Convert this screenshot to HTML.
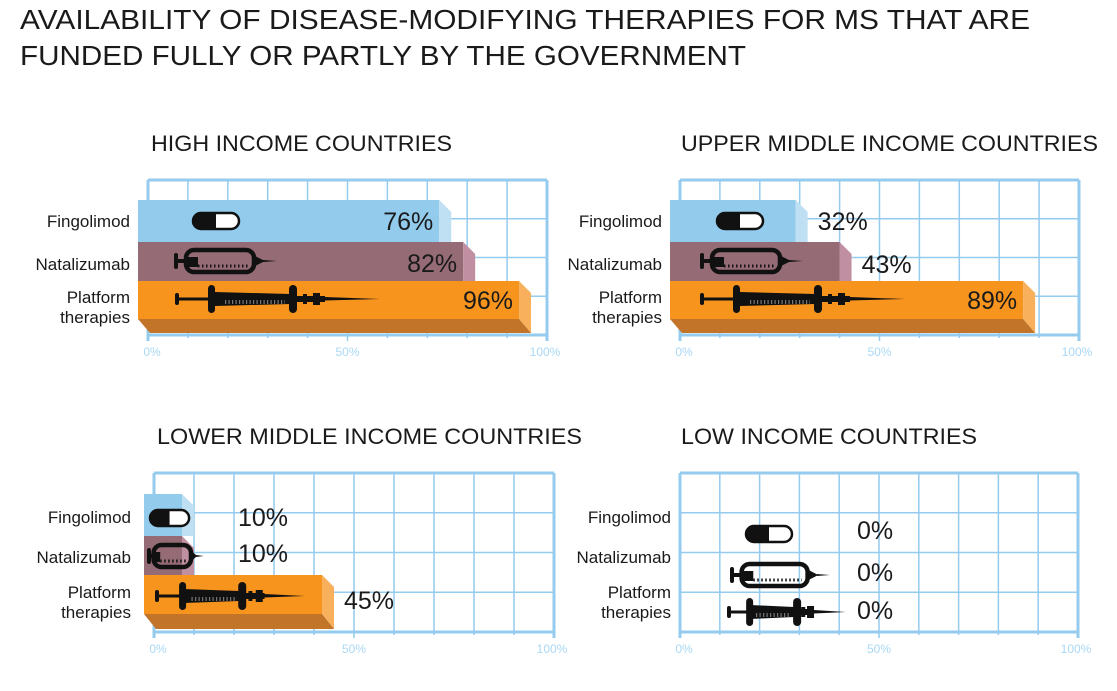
<!DOCTYPE html>
<html><head><meta charset="utf-8"><style>
html,body{margin:0;padding:0;background:#fff;}
svg{display:block;font-family:"Liberation Sans",sans-serif;}
</style></head><body>
<svg id="chart" width="1117" height="691" viewBox="0 0 1117 691" xmlns="http://www.w3.org/2000/svg">
<text x="20" y="29" font-size="28" fill="#1a1a1a" textLength="1010" lengthAdjust="spacingAndGlyphs">AVAILABILITY OF DISEASE-MODIFYING THERAPIES FOR MS THAT ARE</text>
<text x="20" y="65" font-size="28" fill="#1a1a1a" textLength="726" lengthAdjust="spacingAndGlyphs">FUNDED FULLY OR PARTLY BY THE GOVERNMENT</text>
</svg>
<script>
const categories = ["Fingolimod", "Natalizumab", "Platform therapies"];
const panelTitles = ["HIGH INCOME COUNTRIES", "UPPER MIDDLE INCOME COUNTRIES", "LOWER MIDDLE INCOME COUNTRIES", "LOW INCOME COUNTRIES"];
const highIncome = [76, 82, 96];
const upperMiddle = [32, 43, 89];
const lowerMiddle = [10, 10, 45];
const lowIncome = [0, 0, 0];
const tickValues = [0, 50, 100];
const tickLabels = ["0%", "50%", "100%"];

const NS = "http://www.w3.org/2000/svg";
const svg = document.getElementById("chart");
function mk(tag, attrs, parent) {
  const e = document.createElementNS(NS, tag);
  for (const k in attrs) e.setAttribute(k, attrs[k]);
  (parent || svg).appendChild(e);
  return e;
}
const colors = [
  {front:"#93cbed", side:"#bfe0f3"},
  {front:"#956b76", side:"#c090a2"},
  {front:"#f7941d", side:"#f8b05c", bottom:"#c27429"}
];
const layouts = [
  {x0:148,x1:547,yTop:180,yBot:335,labelX:130,titleX:151,titleY:151,titleW:301,
   rowOff:[20,62,101,139,153],textY:[221,263,300],labY:[221,264,297,317],minText:0,
   icons:[[193,221,1],[174,261,1],[175,299,1]]},
  {x0:680,x1:1079,yTop:180,yBot:335,labelX:662,titleX:681,titleY:151,titleW:417,
   rowOff:[20,62,101,139,153],textY:[221,264,300],labY:[221,264,297,317],minText:0,
   icons:[[717,221,1],[700,261,1],[700,299,1]]},
  {x0:154,x1:554,yTop:473,yBot:632,labelX:131,titleX:157,titleY:444,titleW:425,
   rowOff:[21,63,102,141,156],textY:[517,553,600],labY:[517,557,592,612],minText:238,
   icons:[[150,518,0.85],[147,556,0.55],[155,596,0.73]]},
  {x0:680,x1:1078,yTop:473,yBot:632,labelX:671,titleX:681,titleY:444,titleW:296,
   rowOff:[21,63,102,141,156],textY:[530,572,610],labY:[517,557,592,612],minText:857,
   icons:[[746,534,1],[730,575,0.97],[727,612,0.58]]}
];
const panelData = [highIncome, upperMiddle, lowerMiddle, lowIncome];
const panelNames = ["high-income","upper-middle-income","lower-middle-income","low-income"];

function pill(g, x, y, s) {
  const w = 46*s, h = 16;
  mk("rect",{x:x,y:y-h/2,width:w,height:h,rx:8,fill:"#fff",stroke:"#111","stroke-width":2.5},g);
  mk("path",{d:`M${x+w/2},${y-h/2} H${x+8} A8,8 0 0 0 ${x+8},${y+h/2} H${x+w/2} Z`,fill:"#111"},g);
}
function syringe(g, x, y, s) {
  const X = v => x + v*s;
  mk("rect",{x:X(0),y:y-8,width:4,height:16,rx:2,fill:"#111"},g);
  mk("rect",{x:X(0),y:y-2,width:X(14)-X(0),height:4,fill:"#111"},g);
  mk("rect",{x:X(12),y:y-11,width:X(80)-X(12),height:22,rx:8,fill:"none",stroke:"#111","stroke-width":4.5},g);
  mk("rect",{x:X(14),y:y-4,width:X(24)-X(14),height:10,fill:"#111"},g);
  mk("line",{x1:X(24),y1:y+5,x2:X(74),y2:y+5,stroke:"#111","stroke-width":3,"stroke-dasharray":"1.5 2.5"},g);
  mk("path",{d:`M${X(81)},${y-5} L${X(89)},${y-1} L${X(89)},${y+1} L${X(81)},${y+5} Z`,fill:"#111"},g);
  mk("path",{d:`M${X(89)},${y-1} L${X(103)},${y} L${X(89)},${y+1} Z`,fill:"#111"},g);
}
function longSyringe(g, x, y, s) {
  const X = v => x + v*s;
  mk("rect",{x:X(0),y:y-6,width:4,height:12,rx:2,fill:"#111"},g);
  mk("rect",{x:X(0),y:y-1.5,width:X(36)-X(0),height:3,fill:"#111"},g);
  mk("rect",{x:X(33),y:y-14,width:7,height:28,rx:3.5,fill:"#111"},g);
  mk("path",{d:`M${X(40)},${y-7} L${X(115)},${y-5} L${X(115)},${y+5} L${X(40)},${y+7} Z`,fill:"#111"},g);
  mk("line",{x1:X(50),y1:y+3,x2:X(110),y2:y+3,stroke:"#777","stroke-width":4,"stroke-dasharray":"1.2 2.3"},g);
  mk("rect",{x:X(114),y:y-14,width:8,height:28,rx:4,fill:"#111"},g);
  mk("rect",{x:X(122),y:y-3,width:X(150)-X(122),height:6,fill:"#111"},g);
  mk("rect",{x:X(128),y:y-5,width:4,height:10,fill:"#111"},g);
  mk("rect",{x:X(138),y:y-6,width:7,height:12,fill:"#111"},g);
  mk("path",{d:`M${X(150)},${y-2} L${X(205)},${y} L${X(150)},${y+1.5} Z`,fill:"#111"},g);
}

layouts.forEach((L, pi) => {
  const vals = panelData[pi];
  const g = mk("g",{});
  
  
  const xs = v => L.x0 + (L.x1 - L.x0) * v / 100;
  // title
  const t = mk("text",{x:L.titleX,y:L.titleY,"font-size":22,fill:"#1a1a1a",textLength:L.titleW,lengthAdjust:"spacingAndGlyphs"},g);
  t.textContent = panelTitles[pi];
  
  
  // grid
  const grid = mk("g",{},g);
  
  
  for (let i = 0; i <= 10; i++) {
    const x = xs(i*10);
    mk("line",{x1:x,y1:L.yTop,x2:x,y2:L.yBot+(i%5===0?6:3),stroke:"#94cbee","stroke-width":(i===0||i===10)?3:1.5},grid);
  }
  for (let j = 0; j <= 4; j++) {
    const y = L.yTop + (L.yBot - L.yTop)*j/4;
    mk("line",{x1:L.x0,y1:y,x2:L.x1,y2:y,stroke:"#94cbee","stroke-width":(j===0||j===4)?3:1.5},grid);
  }
  tickValues.forEach((tv, k) => {
    const tl = mk("text",{x:xs(tv)+(k===0?4:k===2?-2:0),y:L.yBot+21,"font-size":12,fill:"#a9d8f5","text-anchor":"middle"},g);
    tl.textContent = tickLabels[k];
    
    
  });
  // category labels
  const lab = [[categories[0],L.labY[0]],[categories[1],L.labY[1]],["Platform",L.labY[2]],["therapies",L.labY[3]]];
  lab.forEach(([s,y]) => {
    const e = mk("text",{x:L.labelX,y:y+6,"font-size":17,fill:"#1a1a1a","text-anchor":"end"},g);
    e.textContent = s;
    
    
  });
  // bars
  const d = 12, left = L.x0 - 10;
  vals.forEach((v, r) => {
    const top = L.yTop + L.rowOff[r], bot = L.yTop + L.rowOff[r+1];
    const end = xs(v);
    if (v > 0) {
      const bg = mk("g",{},g);
      
      
      const fr = Math.max(left, end - d);
      mk("rect",{x:left,y:top,width:fr-left,height:bot-top,fill:colors[r].front},bg);
      mk("path",{d:`M${fr},${top} L${end},${top+d} L${end},${r===2?L.yTop+L.rowOff[4]:bot} L${fr},${bot} Z`,fill:colors[r].side},bg);
      if (r === 2) {
        const bb = L.yTop + L.rowOff[4];
        mk("path",{d:`M${left},${bot} L${fr},${bot} L${end},${bb} L${left+12},${bb} Z`,fill:colors[r].bottom},bg);
      }
    }
    // icon
    const ic = mk("g",{},g);
    
    
    const [ix, iy, s] = L.icons[r];
    if (r === 0) pill(ic, ix, iy, s); else if (r === 1) syringe(ic, ix, iy, s); else longSyringe(ic, ix, iy, s);
    // value text
    const inside = v >= 60;
    const tx = inside ? end - d - 6 : Math.max(end + 10, L.minText);
    const vt = mk("text",{x:tx,y:L.textY[r]+9,"font-size":25,fill:"#1a1a1a","text-anchor":inside?"end":"start"},g);
    vt.textContent = v + "%";
    
    
  });
});
</script>
</body></html>
